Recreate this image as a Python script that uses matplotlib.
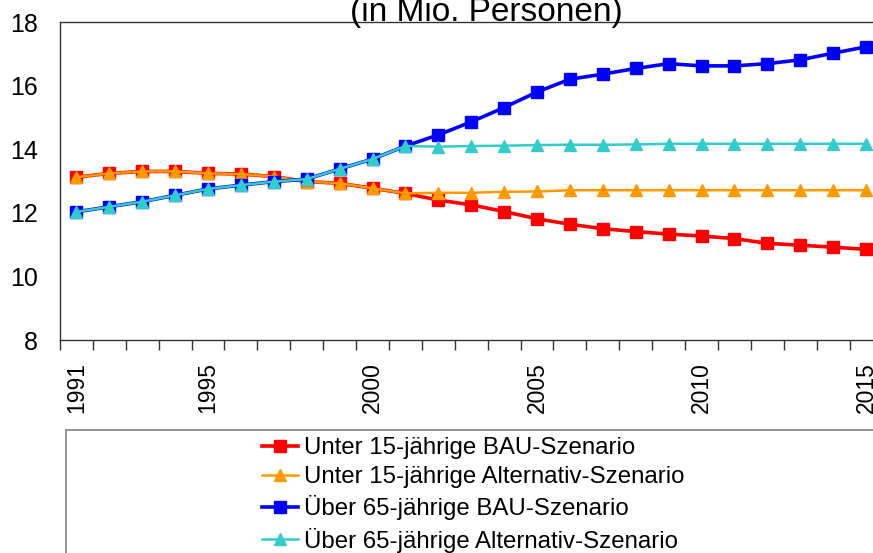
import matplotlib
matplotlib.use("Agg")
import matplotlib.pyplot as plt
from matplotlib.patches import Rectangle

plt.rcParams['font.family'] = ['Liberation Sans', 'DejaVu Sans']

years = list(range(1991, 2016))
tick_years = [1991, 1995, 2000, 2005, 2010, 2015]

unter15_bau = [13.12, 13.24, 13.30, 13.30, 13.24, 13.22, 13.14, 12.98, 12.93, 12.77,
               12.61, 12.40, 12.25, 12.04, 11.81, 11.64, 11.50, 11.41, 11.33, 11.27,
               11.19, 11.04, 10.98, 10.92, 10.85]
unter15_alt = [13.12, 13.24, 13.30, 13.30, 13.24, 13.22, 13.14, 12.98, 12.93, 12.77,
               12.61, 12.63, 12.63, 12.66, 12.67, 12.71, 12.71, 12.71, 12.71, 12.71,
               12.71, 12.71, 12.71, 12.71, 12.71]
ueber65_bau = [12.03, 12.19, 12.35, 12.55, 12.75, 12.87, 12.98, 13.06, 13.38, 13.69,
               14.10, 14.45, 14.86, 15.31, 15.80, 16.20, 16.36, 16.54, 16.69, 16.62,
               16.62, 16.69, 16.81, 17.02, 17.22]
ueber65_alt = [12.03, 12.19, 12.35, 12.55, 12.75, 12.87, 12.98, 13.06, 13.38, 13.69,
               14.10, 14.08, 14.10, 14.11, 14.13, 14.14, 14.14, 14.15, 14.17, 14.17,
               14.17, 14.17, 14.17, 14.17, 14.17]

labels = ["Unter 15-jährige BAU-Szenario",
          "Unter 15-jährige Alternativ-Szenario",
          "Über 65-jährige BAU-Szenario",
          "Über 65-jährige Alternativ-Szenario"]
title = "(in Mio. Personen)"

W, H = 873, 553
fig = plt.figure(figsize=(W / 100, H / 100), dpi=100)
ax = fig.add_axes([60 / W, (H - 340) / H, 822.5 / W, 318 / H])

l1, = ax.plot(years, unter15_bau, color='#FF0000', lw=2.6, marker='s', ms=8, zorder=3)
l2, = ax.plot(years, unter15_alt, color='#FF9900', lw=1.8, marker='^', ms=8.5, zorder=4)
l3, = ax.plot(years, ueber65_bau, color='#0000FF', lw=2.6, marker='s', ms=8, zorder=5)
l4, = ax.plot(years, ueber65_alt, color='#33CCCC', lw=1.8, marker='^', ms=8.5, zorder=6)

ax.set_xlim(years[0] - 0.5, years[-1] + 0.5)
ax.set_ylim(8, 18)
ax.set_yticks(range(8, 19, 2))
ax.tick_params(axis='y', length=0, pad=16, labelsize=18)

bounds = [y - 0.5 for y in years] + [years[-1] + 0.5]
ax.set_xticks(bounds)
ax.set_xticklabels([])
ax.tick_params(axis='x', which='major', length=7, width=1, direction='out', color='#333333')
ax.set_xticks(tick_years, minor=True)
ax.set_xticklabels([str(t) for t in tick_years], minor=True, rotation=90, fontsize=16.5)
ax.tick_params(axis='x', which='minor', length=0, pad=16)

for s in ['left', 'top', 'bottom']:
    ax.spines[s].set_color('#333333')
    ax.spines[s].set_linewidth(1)
ax.spines['right'].set_visible(False)

fig.text(486 / W, 1 - 20.7 / H, title, ha='center', va='baseline', fontsize=24)

fig.patches.append(Rectangle((66 / W, -0.2), 1.0, (H - 430) / H + 0.2,
                             transform=fig.transFigure, fill=False,
                             edgecolor='#808080', lw=1.2, zorder=0))

leg = fig.legend([l1, l2, l3, l4], labels, loc='upper left',
                 bbox_to_anchor=(262 / W, 1 - 437 / H), frameon=False,
                 fontsize=17.3, handlelength=1.5, handletextpad=0.25,
                 labelspacing=0.3, borderaxespad=0, borderpad=0)

fig.savefig("out.png", dpi=100)
